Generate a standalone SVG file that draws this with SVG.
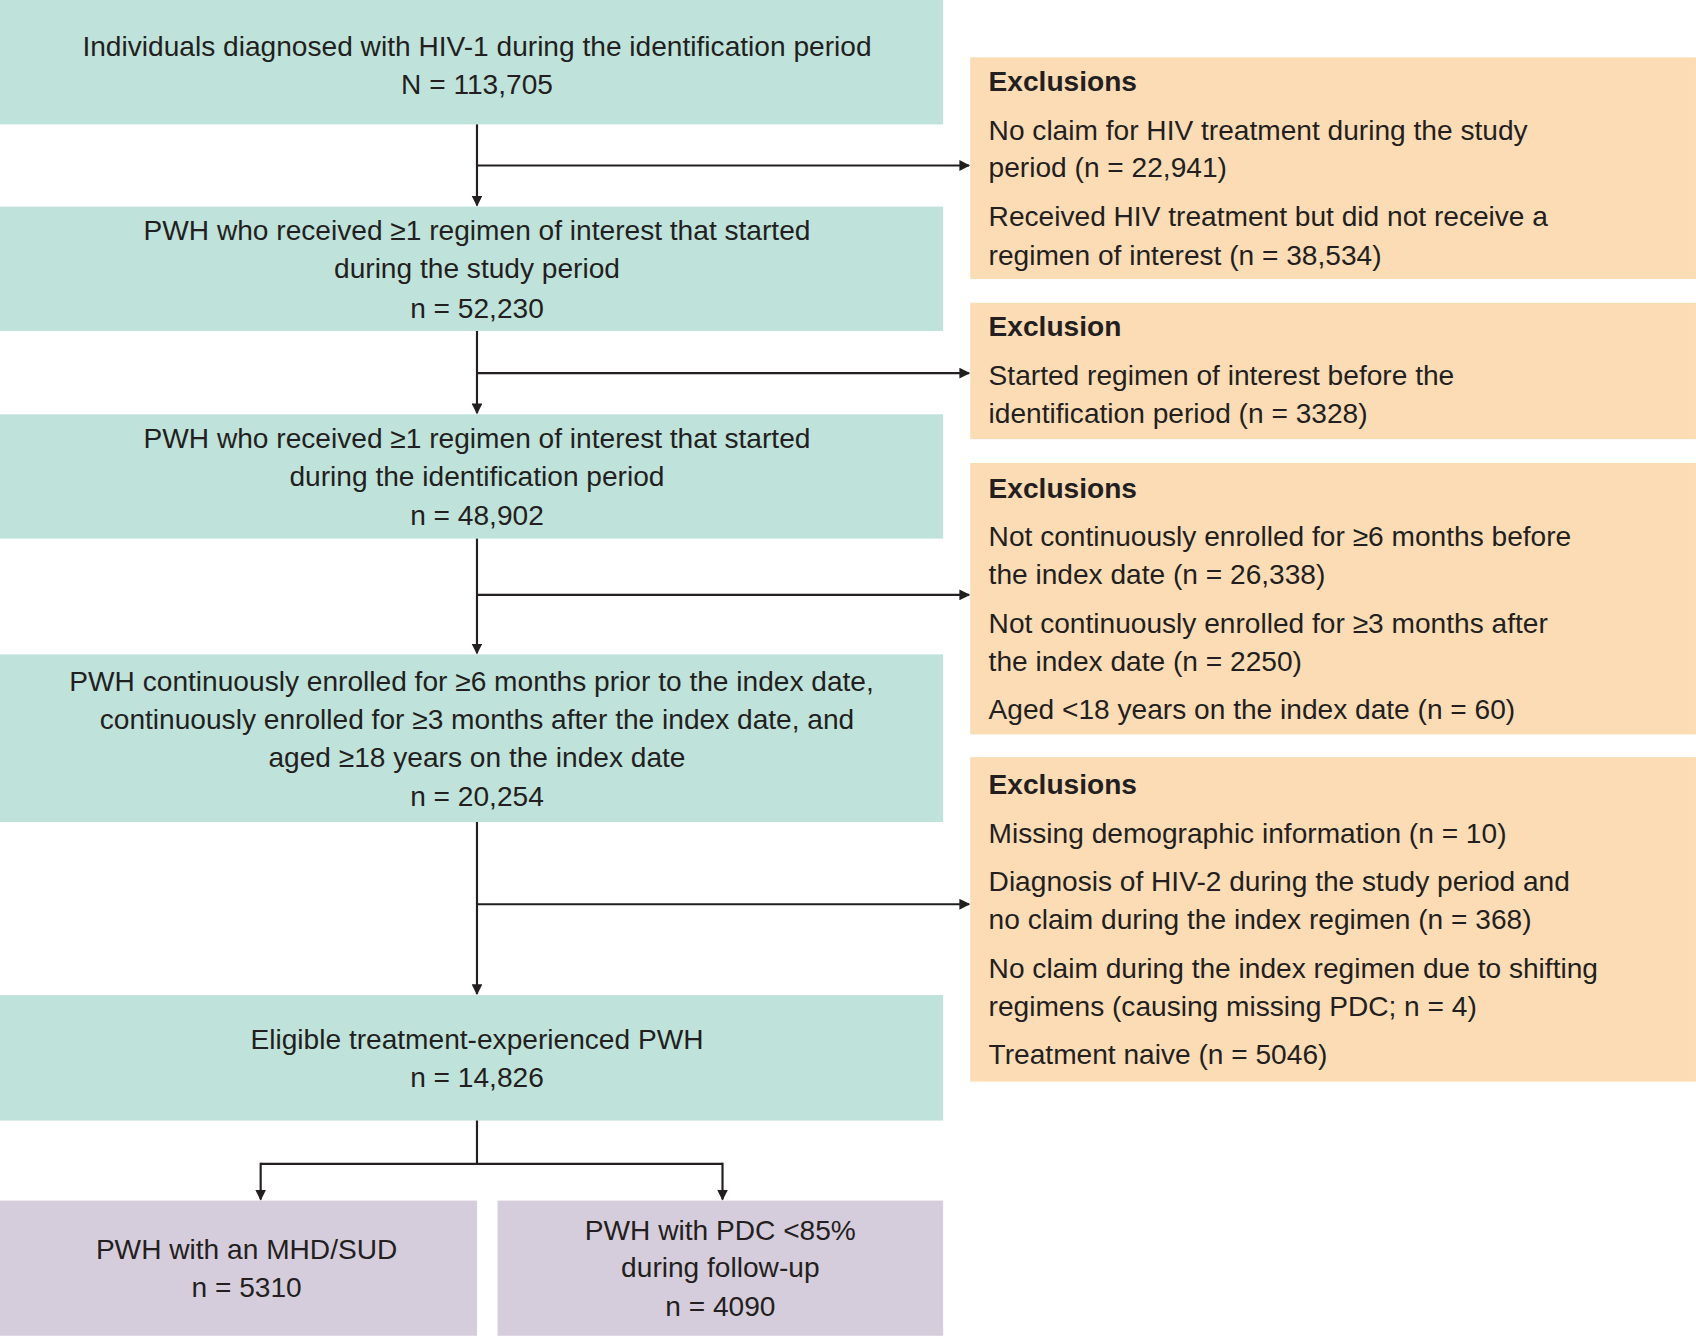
<svg xmlns="http://www.w3.org/2000/svg" width="1696" height="1336" viewBox="0 0 1696 1336">
<defs>
<marker id="ah" markerWidth="10" markerHeight="10" refX="9" refY="5" orient="auto" markerUnits="userSpaceOnUse"><path d="M0,0 L10,5 L0,10 z" fill="#231f20"/></marker>
<style>
text{font-family:"Liberation Sans",Arial,sans-serif;font-size:26px;fill:#231f20}
.c{text-anchor:middle}
.b{font-weight:bold}
.g{fill:#bfe3db}.o{fill:#fcdcb5}.p{fill:#d6cddc}
.ln{stroke:#231f20;stroke-width:2;fill:none}
</style>
</defs>
<rect width="1696" height="1336" fill="#fff"/>
<g transform="scale(1.0816)">
<g id="n1"><rect class="g" x="0" y="0" width="872" height="115"/><text class="c" x="441" y="52">Individuals diagnosed with HIV-1 during the identification period</text><text class="c" x="441" y="87">N = 113,705</text></g>
<g id="n2"><rect class="g" x="0" y="191" width="872" height="115"/><text class="c" x="441" y="222">PWH who received ≥1 regimen of interest that started</text><text class="c" x="441" y="257">during the study period</text><text class="c" x="441" y="294">n = 52,230</text></g>
<g id="n3"><rect class="g" x="0" y="383" width="872" height="115"/><text class="c" x="441" y="414">PWH who received ≥1 regimen of interest that started</text><text class="c" x="441" y="449">during the identification period</text><text class="c" x="441" y="485">n = 48,902</text></g>
<g id="n4"><rect class="g" x="0" y="605" width="872" height="155"/><text class="c" x="436" y="639">PWH continuously enrolled for ≥6 months prior to the index date,</text><text class="c" x="441" y="674">continuously enrolled for ≥3 months after the index date, and</text><text class="c" x="441" y="709">aged ≥18 years on the index date</text><text class="c" x="441" y="745">n = 20,254</text></g>
<g id="n5"><rect class="g" x="0" y="920" width="872" height="116"/><text class="c" x="441" y="970">Eligible treatment-experienced PWH</text><text class="c" x="441" y="1005">n = 14,826</text></g>
<g id="n6"><rect class="p" x="0" y="1110" width="441" height="125"/><text class="c" x="228" y="1164">PWH with an MHD/SUD</text><text class="c" x="228" y="1199">n = 5310</text></g>
<g id="n7"><rect class="p" x="460" y="1110" width="412" height="125"/><text class="c" x="666" y="1146">PWH with PDC &lt;85%</text><text class="c" x="666" y="1181">during follow-up</text><text class="c" x="666" y="1217">n = 4090</text></g>
<g id="e1"><rect class="o" x="897" y="53" width="671" height="205"/><text class="b" x="914" y="84">Exclusions</text><text x="914" y="129">No claim for HIV treatment during the study</text><text x="914" y="164">period (n = 22,941)</text><text x="914" y="209">Received HIV treatment but did not receive a</text><text x="914" y="245">regimen of interest (n = 38,534)</text></g>
<g id="e2"><rect class="o" x="897" y="280" width="671" height="126"/><text class="b" x="914" y="311">Exclusion</text><text x="914" y="356">Started regimen of interest before the</text><text x="914" y="391">identification period (n = 3328)</text></g>
<g id="e3"><rect class="o" x="897" y="428" width="671" height="251"/><text class="b" x="914" y="460">Exclusions</text><text x="914" y="505">Not continuously enrolled for ≥6 months before</text><text x="914" y="540">the index date (n = 26,338)</text><text x="914" y="585">Not continuously enrolled for ≥3 months after</text><text x="914" y="620">the index date (n = 2250)</text><text x="914" y="665">Aged &lt;18 years on the index date (n = 60)</text></g>
<g id="e4"><rect class="o" x="897" y="700" width="671" height="300"/><text class="b" x="914" y="734">Exclusions</text><text x="914" y="779">Missing demographic information (n = 10)</text><text x="914" y="824">Diagnosis of HIV-2 during the study period and</text><text x="914" y="859">no claim during the index regimen (n = 368)</text><text x="914" y="904">No claim during the index regimen due to shifting</text><text x="914" y="939">regimens (causing missing PDC; n = 4)</text><text x="914" y="984">Treatment naive (n = 5046)</text></g>
<g id="connectors">
<path class="ln" d="M441,115 V190" marker-end="url(#ah)"/><path class="ln" d="M441,153 H896" marker-end="url(#ah)"/>
<path class="ln" d="M441,306 V382" marker-end="url(#ah)"/><path class="ln" d="M441,345 H896" marker-end="url(#ah)"/>
<path class="ln" d="M441,498 V604" marker-end="url(#ah)"/><path class="ln" d="M441,550 H896" marker-end="url(#ah)"/>
<path class="ln" d="M441,760 V919" marker-end="url(#ah)"/><path class="ln" d="M441,836 H896" marker-end="url(#ah)"/>
<path class="ln" d="M441,1036 V1076 M241,1076 H668"/><path class="ln" d="M241,1075 V1109" marker-end="url(#ah)"/><path class="ln" d="M668,1075 V1109" marker-end="url(#ah)"/>
</g>
</g>
</svg>
